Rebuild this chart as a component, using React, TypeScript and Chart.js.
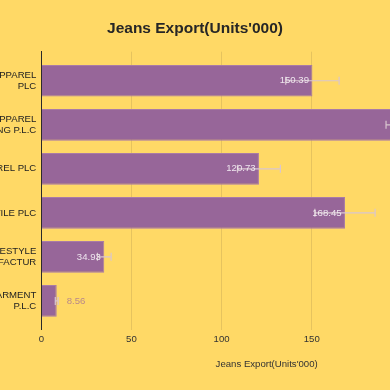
import React, { useEffect, useRef } from "react";
import { Chart, registerables } from "chart.js";

Chart.register(...registerables);

// ---- data ----
const companyLabels: string[][] = [
  ["LANKA APPAREL", "PLC"],
  ["COLOMBO APPAREL", "MANUFACTURING P.L.C"],
  ["KANDY APPAREL PLC"],
  ["GALLE TEXTILE PLC"],
  ["ASIA LIFESTYLE", "MANUFACTUR"],
  ["SIGIRI GARMENT", "P.L.C"],
];
const exportValues: number[] = [150.39, 215.62, 120.73, 168.45, 34.93, 8.56];
const exportErrors: number[] = [14.8, 24.4, 11.9, 16.7, 3.8, 0.8];
const xTickMax = 250;
const chartTitle = "Jeans Export(Units'000)";
const xAxisTitle = "Jeans Export(Units'000)";

const BG = "#FFD966";
const BAR = "#976699";
const BAR_BORDER = "#A97BA6";
const GRID = "#E6C35E";
const FONT = "'Liberation Sans', Arial, sans-serif";

const errorBarPlugin = {
  id: "errorBars",
  afterDatasetsDraw(chart: any) {
    const meta = chart.getDatasetMeta(0);
    const xs = chart.scales.x;
    const ctx = chart.ctx;
    ctx.save();
    ctx.strokeStyle = "#D9C6CF";
    ctx.lineWidth = 1.2;
    meta.data.forEach((el: any, i: number) => {
      const v = exportValues[i];
      const e = exportErrors[i];
      const x1 = xs.getPixelForValue(v - e);
      const x2 = xs.getPixelForValue(v + e);
      const y = el.y;
      ctx.beginPath();
      ctx.moveTo(x1, y);
      ctx.lineTo(x2, y);
      ctx.moveTo(x1, y - 4);
      ctx.lineTo(x1, y + 4);
      ctx.moveTo(x2, y - 4);
      ctx.lineTo(x2, y + 4);
      ctx.stroke();
    });
    // value labels
    ctx.font = `9.6px ${FONT}`;
    ctx.textBaseline = "middle";
    meta.data.forEach((el: any, i: number) => {
      const txt = exportValues[i].toFixed(2);
      const w = ctx.measureText(txt).width;
      const barLen = el.x - el.base;
      if (barLen > w + 8) {
        ctx.fillStyle = "rgba(245,240,245,0.92)";
        ctx.textAlign = "right";
        ctx.fillText(txt, el.x - 3.4, el.y);
      } else {
        ctx.fillStyle = "rgba(160,110,150,0.75)";
        ctx.textAlign = "left";
        ctx.fillText(txt, el.x + 10, el.y);
      }
    });
    ctx.restore();
  },
};

export default function App() {
  const ref = useRef<HTMLCanvasElement | null>(null);
  useEffect(() => {
    if (!ref.current) return;
    const chart = new Chart(ref.current, {
      type: "bar",
      data: {
        datasets: [
          {
            label: chartTitle,
            data: exportValues.map((v, i) => ({ x: v, y: i })),
            backgroundColor: BAR,
            borderColor: BAR_BORDER,
            borderWidth: 1,
          },
        ],
      },
      options: {
        indexAxis: "y",
        responsive: false,
        animation: false,
        layout: { padding: { left: 13, right: 13, top: 0, bottom: 0 } },
        plugins: {
          legend: { display: false },
          tooltip: { enabled: false },
          title: {
            display: true,
            text: chartTitle,
            color: "#262626",
            font: { family: FONT, size: 15.5, weight: "bold" },
            padding: { top: 19.7, bottom: 13.4 },
          },
        },
        scales: {
          x: {
            type: "linear",
            min: 0,
            max: xTickMax,
            ticks: {
              stepSize: 50,
              color: "#333",
              padding: 4,
              font: { family: FONT, size: 9.6 },
            },
            grid: { color: GRID, drawTicks: false, lineWidth: 1 },
            border: { display: false },
            title: {
              display: true,
              text: xAxisTitle,
              color: "#333",
              font: { family: FONT, size: 9.6 },
              padding: { top: 9.3, bottom: 19.7 },
            },
          },
          y: {
            type: "linear",
            reverse: true,
            offset: false,
            min: -0.66,
            max: 5.66,
            afterBuildTicks: (scale: any) => {
              scale.ticks = companyLabels.map((_, i) => ({ value: i }));
            },
            afterFit: (scale: any) => {
              scale.width = 143.3;
            },
            ticks: {
              color: "#222",
              padding: 5,
              autoSkip: false,
              font: { family: FONT, size: 9.6 },
              callback: (v: any) => companyLabels[v as number] ?? "",
            },
            grid: { display: false, drawTicks: false, offset: false },
            border: { display: true, color: "#2a2a2a", width: 1 },
          },
        },
      } as any,
      plugins: [errorBarPlugin],
    });
    return () => chart.destroy();
  }, []);

  return (
    <div
      style={{
        position: "fixed",
        left: 0,
        top: 0,
        width: 390,
        height: 390,
        overflow: "hidden",
        background: BG,
      }}
    >
      <canvas
        ref={ref}
        width={620}
        height={390}
        style={{ position: "absolute", left: -115, top: 0, width: 620, height: 390 }}
      />
    </div>
  );
}
